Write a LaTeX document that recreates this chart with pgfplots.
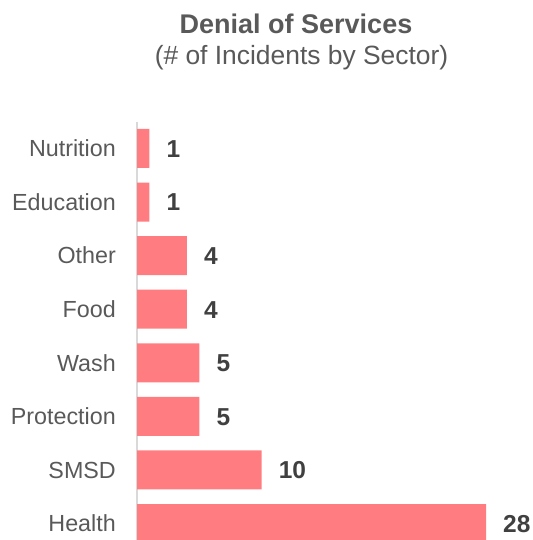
\documentclass[border=0pt]{standalone}
\usepackage{fontspec}
\setmainfont{Liberation Sans}
\usepackage{pgfplots}
\pgfplotsset{compat=1.18}
\definecolor{barc}{HTML}{FF7C80}
\definecolor{axc}{HTML}{D9D9D9}
\definecolor{txt}{HTML}{595959}
\definecolor{val}{HTML}{404040}
\begin{document}
\begin{tikzpicture}[x=1bp,y=1bp]
\clip (0,0) rectangle (533,540);
\useasboundingbox (0,0) rectangle (533,540);
\node[anchor=base, text=txt, font=\fontsize{27bp}{32bp}\selectfont\bfseries, inner sep=0] at (296,506) {Denial of Services};
\node[anchor=base, text=txt, font=\fontsize{26.4bp}{32bp}\selectfont, inner sep=0] at (301.5,475) {(\# of Incidents by Sector)};
\begin{axis}[
  at={(137bp,-10.3bp)}, anchor=south west,
  scale only axis, width=349bp, height=428.6bp,
  xmin=0, xmax=28, ymin=-0.5, ymax=7.5,
  xbar, bar width=39bp,
  hide x axis,
  axis y line*=left,
  y axis line style={axc, line width=1.5bp, -},
  ytick={0,...,7},
  yticklabels={Health,SMSD,Protection,Wash,Food,Other,Education,Nutrition},
  major tick length=0pt,
  /pgf/number format/assume math mode=true,
  yticklabel style={text=txt, font=\fontsize{23.3bp}{28bp}\selectfont, inner sep=0pt, anchor=base east, xshift=-21bp, yshift=-8.3bp},
  nodes near coords={\pgfmathprintnumber[assume math mode=true]{\pgfplotspointmeta}},
  point meta=x,
  nodes near coords style={text=val, font=\fontsize{24.5bp}{29bp}\selectfont\bfseries, inner sep=0pt, anchor=base west, xshift=17bp, yshift=-8.8bp},
  clip=false,
]
\addplot[fill=barc, draw=none] coordinates {(28,0) (10,1) (5,2) (5,3) (4,4) (4,5) (1,6) (1,7)};
\end{axis}
\end{tikzpicture}
\end{document}
